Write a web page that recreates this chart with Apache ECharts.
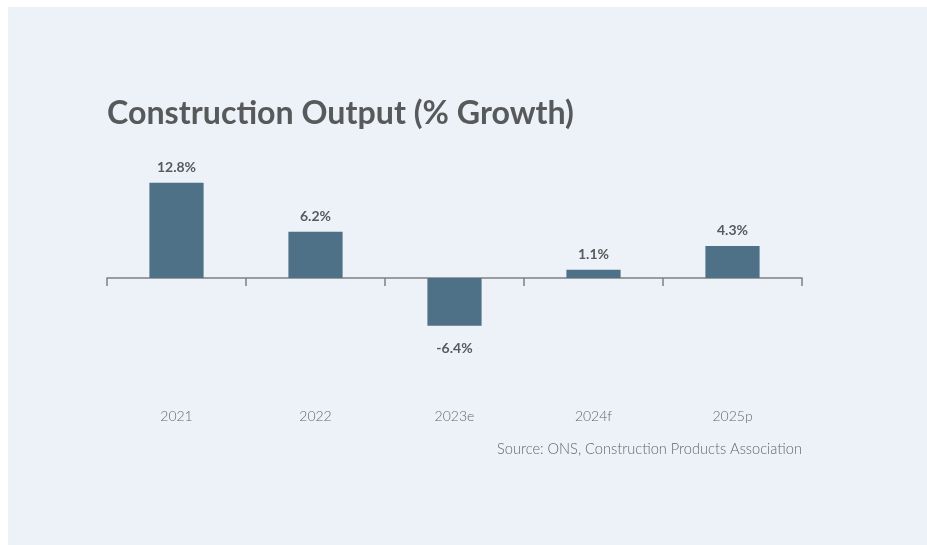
<!DOCTYPE html>
<html>
<head>
<meta charset="utf-8">
<script src="https://cdn.jsdelivr.net/npm/echarts@6/dist/echarts.min.js"></script>
<style>
  html, body { margin: 0; padding: 0; background: #ffffff; width: 927px; height: 545px; overflow: hidden; }
  #chart { position: absolute; left: 8px; top: 7px; width: 919px; height: 538px; background: #edf2f9; }
</style>
</head>
<body>
<div id="chart"></div>
<script>
const categories = ['2021', '2022', '2023e', '2024f', '2025p'];
const growth = [12.8, 6.2, -6.4, 1.1, 4.3];
const titleText = 'Construction Output (% Growth)';
const sourceText = 'Source: ONS, Construction Products Association';

const chart = echarts.init(document.getElementById('chart'), null, { renderer: 'canvas' });
const FONT = 'Lato, "Open Sans", sans-serif';
const TEXT = '#58595b';

chart.setOption({
  animation: false,
  title: {
    text: titleText,
    left: 94,
    top: 86,
    textStyle: { fontFamily: FONT, fontWeight: 'bold', fontSize: 32.2, color: TEXT }
  },
  graphic: [{
    type: 'text',
    right: 125,
    top: 435,
    style: { text: sourceText, fontFamily: FONT, fontWeight: 300, fontSize: 14.6, fill: '#666666' }
  }],
  grid: { left: 99, right: 125, top: 159.25, bottom: 192.5, containLabel: false },
  xAxis: [{
    type: 'category',
    data: categories,
    axisLine: { onZero: true, lineStyle: { color: '#808080', width: 1.5 } },
    axisTick: { show: true, length: 8, lineStyle: { color: '#808080', width: 1.5 } },
    axisLabel: { show: false },
    splitLine: { show: false }
  }, {
    type: 'category',
    data: categories,
    position: 'bottom',
    axisLine: { show: false, onZero: false },
    axisTick: { show: false },
    axisLabel: { margin: 57, fontFamily: FONT, fontWeight: 300, fontSize: 14, color: '#666666' },
    splitLine: { show: false }
  }],
  yAxis: { type: 'value', min: -10, max: 15, show: false, splitLine: { show: false } },
  series: [{
    type: 'bar',
    xAxisIndex: 0,
    barWidth: '39%',
    itemStyle: { color: '#4e7187' },
    data: growth.map(v => ({
      value: v,
      label: {
        show: true,
        position: v >= 0 ? 'top' : 'bottom',
        distance: v >= 0 ? 8 : 16,
        formatter: p => p.value.toFixed(1) + '%',
        fontFamily: FONT, fontWeight: 'bold', fontSize: 14, color: TEXT
      }
    }))
  }]
});
</script>
</body>
</html>
